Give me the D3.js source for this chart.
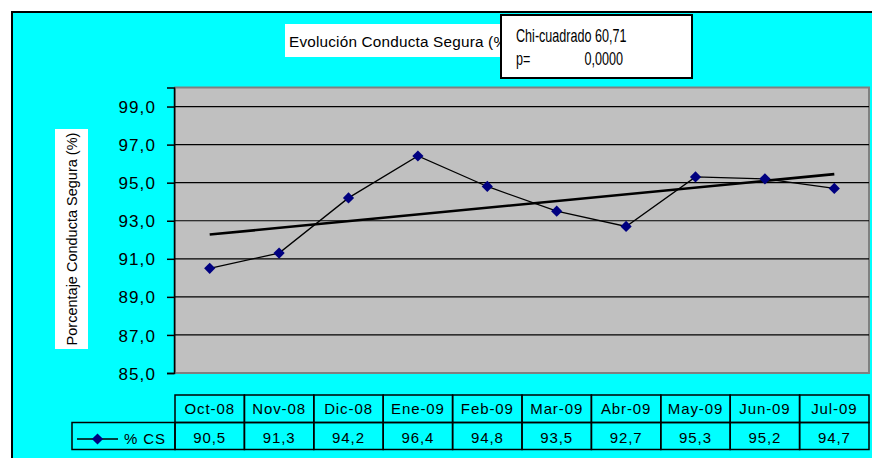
<!DOCTYPE html>
<html>
<head>
<meta charset="utf-8">
<script src="https://cdn.jsdelivr.net/npm/d3@7"></script>
<style>
  body { margin: 0; background: #fff; }
  text { font-family: "Liberation Sans", Arial, sans-serif; fill: #000; }
</style>
</head>
<body>
<div id="chart"></div>
<script>
// chart data
const months = ["Oct-08", "Nov-08", "Dic-08", "Ene-09", "Feb-09", "Mar-09", "Abr-09", "May-09", "Jun-09", "Jul-09"];
const pctCS = [90.5, 91.3, 94.2, 96.4, 94.8, 93.5, 92.7, 95.3, 95.2, 94.7];
const yTicks = [85, 87, 89, 91, 93, 95, 97, 99];
const seriesName = "% CS";
const chartTitle = "Evolución Conducta Segura (%)";
const yTitle = "Porcentaje Conducta Segura (%)";
const statLines = ["Chi-cuadrado 60,71", "p=", "0,0000"];

const width = 872, height = 458;
const fmt = v => v.toFixed(1).replace(".", ",");

const svg = d3.select("#chart")
  .append("svg")
    .attr("width", width)
    .attr("height", height);

// cyan chart background with black frame
svg.append("rect")
  .attr("x", 12).attr("y", 12)
  .attr("width", 880).attr("height", 470)
  .attr("fill", "#00ffff")
  .attr("stroke", "#000")
  .attr("stroke-width", 2);

// plot area
const plot = { left: 175, right: 869, top: 87.5, bottom: 373 };

const x = d3.scaleBand()
  .domain(months)
  .range([plot.left, plot.right]);

const y = d3.scaleLinear()
  .domain([85, 100])
  .range([plot.bottom, plot.top]);

svg.append("rect")
  .attr("x", plot.left).attr("y", plot.top)
  .attr("width", plot.right - plot.left).attr("height", plot.bottom - plot.top)
  .attr("fill", "#c0c0c0")
  .attr("stroke", "#808080")
  .attr("stroke-width", 2);

// gridlines
svg.append("g")
  .selectAll("line")
  .data(yTicks.filter(d => d > 85))
  .join("line")
    .attr("x1", plot.left).attr("x2", plot.right)
    .attr("y1", d => y(d)).attr("y2", d => y(d))
    .attr("stroke", "#000")
    .attr("stroke-width", 1.2);

// y axis
const yAxis = svg.append("g")
  .attr("transform", `translate(${plot.left - 1},0)`)
  .call(d3.axisLeft(y).tickValues(yTicks).tickSize(7).tickPadding(11).tickFormat(fmt));
yAxis.select(".domain").attr("stroke", "#000").attr("stroke-width", 1.5);
yAxis.selectAll(".tick line").attr("stroke", "#000").attr("stroke-width", 1.5);
yAxis.selectAll(".tick text")
  .attr("font-family", "Liberation Sans, Arial, sans-serif")
  .attr("font-size", 17)
  .attr("letter-spacing", 1.1)
  .attr("dy", "0.36em")
  .attr("fill", "#000");

// y axis title
svg.append("rect")
  .attr("x", 55).attr("y", 129)
  .attr("width", 33).attr("height", 220)
  .attr("fill", "#fff");
svg.append("text")
  .attr("transform", "translate(77,239) rotate(-90)")
  .attr("text-anchor", "middle")
  .attr("font-size", 14.5)
  .text(yTitle);

// linear trend line
const xs = pctCS.map((d, i) => i + 1);
const mx = d3.mean(xs), my = d3.mean(pctCS);
const slope = d3.sum(xs, (v, i) => (v - mx) * (pctCS[i] - my)) / d3.sum(xs, v => (v - mx) ** 2);
const intercept = my - slope * mx;
const cx = m => x(m) + x.bandwidth() / 2;

svg.append("line")
  .attr("x1", cx(months[0]))
  .attr("y1", y(intercept + slope * 1))
  .attr("x2", cx(months[months.length - 1]))
  .attr("y2", y(intercept + slope * months.length))
  .attr("stroke", "#000")
  .attr("stroke-width", 2.6);

// series line and markers
const line = d3.line()
  .x((d, i) => cx(months[i]))
  .y(d => y(d));

svg.append("path")
  .datum(pctCS)
  .attr("d", line)
  .attr("fill", "none")
  .attr("stroke", "#000")
  .attr("stroke-width", 1.3);

const diamond = d3.symbol().type(d3.symbolDiamond2).size(80);
svg.append("g")
  .selectAll("path")
  .data(pctCS)
  .join("path")
    .attr("d", diamond)
    .attr("transform", (d, i) => `translate(${cx(months[i])},${y(d)})`)
    .attr("fill", "#000080");

// data table under the plot
const rowTop = 395, rowMid = 422.5, rowBot = 449.5;
const table = svg.append("g");

table.selectAll("rect.head")
  .data(months)
  .join("rect")
    .attr("class", "head")
    .attr("x", d => x(d)).attr("y", rowTop)
    .attr("width", x.bandwidth()).attr("height", rowMid - rowTop)
    .attr("fill", "none").attr("stroke", "#000").attr("stroke-width", 1.5);

table.selectAll("rect.val")
  .data(months)
  .join("rect")
    .attr("class", "val")
    .attr("x", d => x(d)).attr("y", rowMid)
    .attr("width", x.bandwidth()).attr("height", rowBot - rowMid)
    .attr("fill", "none").attr("stroke", "#000").attr("stroke-width", 1.5);

table.append("rect")
  .attr("x", 72).attr("y", rowMid)
  .attr("width", plot.left - 72).attr("height", rowBot - rowMid)
  .attr("fill", "none").attr("stroke", "#000").attr("stroke-width", 1.5);

table.selectAll("text.head")
  .data(months)
  .join("text")
    .attr("class", "head")
    .attr("x", d => cx(d)).attr("y", 413.5)
    .attr("text-anchor", "middle")
    .attr("font-size", 15)
    .attr("letter-spacing", 0.9)
    .text(d => d);

table.selectAll("text.val")
  .data(pctCS)
  .join("text")
    .attr("class", "val")
    .attr("x", (d, i) => cx(months[i])).attr("y", 443)
    .attr("text-anchor", "middle")
    .attr("font-size", 15)
    .attr("letter-spacing", 0.9)
    .text(fmt);

// legend key in the table
table.append("line")
  .attr("x1", 77).attr("x2", 118)
  .attr("y1", 439).attr("y2", 439)
  .attr("stroke", "#000").attr("stroke-width", 1.3);
table.append("path")
  .attr("d", diamond)
  .attr("transform", "translate(97.5,439)")
  .attr("fill", "#000080");
table.append("text")
  .attr("x", 124).attr("y", 444)
  .attr("font-size", 15)
  .attr("letter-spacing", 0.9)
  .text(seriesName);

// title box (partly hidden by the stats box)
svg.append("rect")
  .attr("x", 285).attr("y", 24)
  .attr("width", 225).attr("height", 33)
  .attr("fill", "#fff");
svg.append("text")
  .attr("x", 289).attr("y", 47)
  .attr("font-size", 15.3)
  .attr("letter-spacing", 0.2)
  .text(chartTitle);

// chi-square stats box, text squeezed to look like a narrow font
svg.append("rect")
  .attr("x", 501).attr("y", 15)
  .attr("width", 191).attr("height", 63)
  .attr("fill", "#fff")
  .attr("stroke", "#000")
  .attr("stroke-width", 2);
const squeeze = 0.7;
const stats = svg.append("g")
  .attr("transform", `translate(516,0) scale(${squeeze},1)`);
stats.append("text")
  .attr("x", 0).attr("y", 42.5)
  .attr("font-size", 18)
  .text(statLines[0]);
stats.append("text")
  .attr("x", 0).attr("y", 65.5)
  .attr("font-size", 18)
  .text(statLines[1]);
stats.append("text")
  .attr("x", (623 - 516) / squeeze).attr("y", 65.5)
  .attr("text-anchor", "end")
  .attr("font-size", 18)
  .text(statLines[2]);
</script>
</body>
</html>
